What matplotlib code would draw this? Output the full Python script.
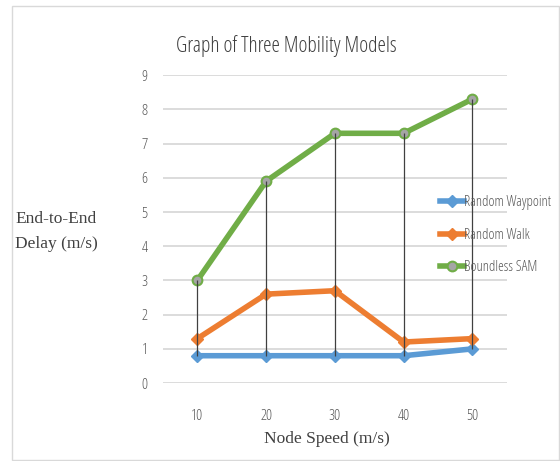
import matplotlib
matplotlib.use("Agg")
import matplotlib.pyplot as plt
from matplotlib.patches import Rectangle

speeds = ["10", "20", "30", "40", "50"]
random_waypoint = [0.8, 0.8, 0.8, 0.8, 1.0]
random_walk = [1.3, 2.6, 2.7, 1.2, 1.3]
boundless_sam = [3.0, 5.9, 7.3, 7.3, 8.3]
y_ticks = [0, 1, 2, 3, 4, 5, 6, 7, 8, 9]

fig = plt.figure(figsize=(5.6, 4.61), dpi=100)
ax = fig.add_axes([0.291, 0.169, 0.614, 0.668])

x = list(range(len(speeds)))

# high-low lines between the series at each category
lows = [min(v) for v in zip(random_waypoint, random_walk, boundless_sam)]
highs = [max(v) for v in zip(random_waypoint, random_walk, boundless_sam)]
ax.vlines(x, lows, highs, color="#404040", lw=0.9, zorder=4)

ax.plot(x, random_waypoint, color="#5b9bd5", lw=4, marker="D", ms=6,
        mfc="#5b9bd5", mec="#5b9bd5", label="Random Waypoint", zorder=3)
ax.plot(x, random_walk, color="#ed7d31", lw=4, marker="D", ms=6,
        mfc="#ed7d31", mec="#ed7d31", label="Random Walk", zorder=3)
ax.plot(x, boundless_sam, color="#70ad47", lw=4, marker="o", ms=7,
        mfc="#a5a5a5", mec="#70ad47", mew=1.5, label="Boundless SAM", zorder=3)

ax.set_xlim(-0.5, len(speeds) - 0.5)
ax.set_ylim(0, 9)
ax.set_yticks(y_ticks)
ax.set_xticks(x)
ax.set_xticklabels(speeds)
ax.yaxis.grid(True, color="#d9d9d9", lw=1.3)
ax.set_axisbelow(True)
for s in ax.spines.values():
    s.set_visible(False)
ax.tick_params(axis="y", length=0, labelsize=11, colors="#595959", pad=11)
ax.tick_params(axis="x", length=0, labelsize=11, colors="#595959", pad=19)
for lbl in ax.get_xticklabels() + ax.get_yticklabels():
    lbl.set_fontfamily("Open Sans")
    lbl.set_fontstretch("condensed")

fig.text(0.512, 0.9, "Graph of Three Mobility Models", ha="center", va="center",
         fontsize=15.5, color="#404040", family="Open Sans", stretch="condensed")
fig.text(0.027, 0.498, "End-to-End\nDelay (m/s)", ha="left", va="center",
         fontsize=12.5, color="#404040", family="Liberation Serif", linespacing=1.7)
fig.text(0.583, 0.047, "Node Speed (m/s)", ha="center", va="center",
         fontsize=12.5, color="#404040", family="Liberation Serif")

leg = ax.legend(loc="center left", bbox_to_anchor=(0.79, 0.48), frameon=False,
                prop={"family": "Open Sans", "stretch": "condensed", "size": 10.5},
                handlelength=1.6, handletextpad=0.05,
                labelspacing=1.2, borderaxespad=0)
for t in leg.get_texts():
    t.set_color("#595959")

fig.patches.append(Rectangle((12 / 560, 1 / 461), 547 / 560, 454 / 461,
                             transform=fig.transFigure, fill=False,
                             ec="#d9d9d9", lw=1.0))

fig.savefig("out.png", dpi=100)
